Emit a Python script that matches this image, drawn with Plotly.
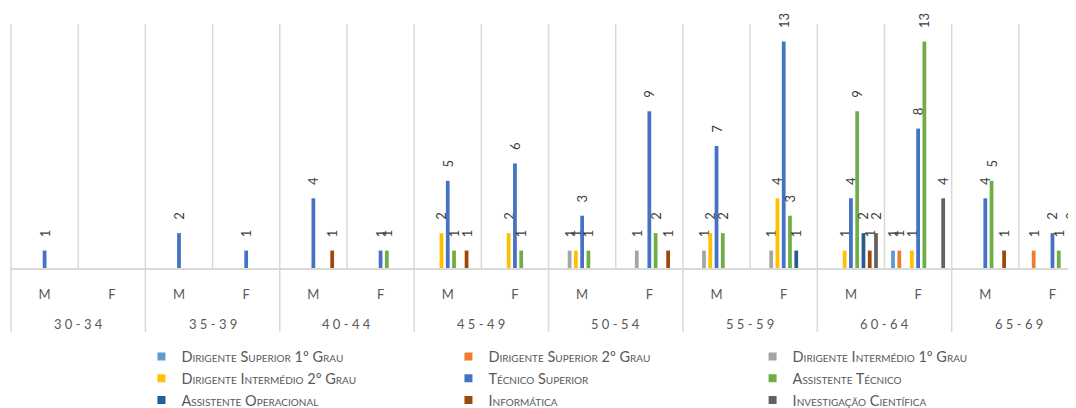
import plotly.graph_objects as go

ages = ["30-34", "35-39", "40-44", "45-49", "50-54", "55-59", "60-64", "65-69"]
sexes = ["M", "F"]

series_names = [
    "Dirigente Superior 1º Grau",
    "Dirigente Superior 2º Grau",
    "Dirigente Intermédio 1º Grau",
    "Dirigente Intermédio 2º Grau",
    "Técnico Superior",
    "Assistente Técnico",
    "Assistente Operacional",
    "Informática",
    "Investigação Científica",
]
colors = ["#5B9BD5", "#ED7D31", "#A5A5A5", "#FFC000", "#4472C4",
          "#70AD47", "#255E91", "#9E480E", "#636363"]

# order: 30-34 M, 30-34 F, 35-39 M, 35-39 F, ... 65-69 M, 65-69 F
dir_sup_1 = [0, 0, 0, 0, 0, 0, 0, 0, 0, 0, 0, 0, 0, 1, 0, 0]
dir_sup_2 = [0, 0, 0, 0, 0, 0, 0, 0, 0, 0, 0, 0, 0, 1, 0, 1]
dir_int_1 = [0, 0, 0, 0, 0, 0, 0, 0, 1, 1, 1, 1, 0, 0, 0, 0]
dir_int_2 = [0, 0, 0, 0, 0, 0, 2, 2, 1, 0, 2, 4, 1, 1, 0, 0]
tec_sup   = [1, 0, 2, 1, 4, 1, 5, 6, 3, 9, 7, 13, 4, 8, 4, 2]
ass_tec   = [0, 0, 0, 0, 0, 1, 1, 1, 1, 2, 2, 3, 9, 13, 5, 1]
ass_op    = [0, 0, 0, 0, 0, 0, 0, 0, 0, 0, 0, 1, 2, 0, 0, 0]
informat  = [0, 0, 0, 0, 1, 0, 1, 0, 0, 1, 0, 0, 1, 0, 1, 2]
inv_cien  = [0, 0, 0, 0, 0, 0, 0, 0, 0, 0, 0, 0, 2, 4, 0, 0]

all_series = [dir_sup_1, dir_sup_2, dir_int_1, dir_int_2, tec_sup,
              ass_tec, ass_op, informat, inv_cien]

cat_sex = [s for a in ages for s in sexes]
cat_age = [a for a in ages for s in sexes]
xs = list(range(len(cat_sex)))

FONT = "Lato"
fig = go.Figure()

for name, vals, col in zip(series_names, all_series, colors):
    yv = [v if v else None for v in vals]
    tv = [("\u00a0" * 4 + str(v)) if v else "" for v in vals]
    fig.add_trace(go.Bar(
        x=xs, y=yv, name=name, marker_color=col, marker_line_width=0,
        text=tv, textposition="outside", textangle=-90,
        textfont=dict(family=FONT, size=13, color="#404040"),
        cliponaxis=False, constraintext="none", showlegend=False,
        hoverinfo="skip",
    ))

# legend entries (3 columns)
legend_cols = ["legend", "legend2", "legend3"]
for i, (name, col) in enumerate(zip(series_names, colors)):
    fig.add_trace(go.Scatter(
        x=[None], y=[None], mode="markers", name=name,
        marker=dict(symbol="square", size=8, color=col),
        legend=legend_cols[i % 3], legendgroup=name, showlegend=True,
    ))

n = len(xs)
shapes = []
for i in range(n + 1):
    group_edge = (i % 2 == 0)
    shapes.append(dict(
        type="line", xref="x", yref="paper",
        x0=i - 0.5, x1=i - 0.5,
        y0=-0.262 if group_edge else 0, y1=1,
        line=dict(color="#D9D9D9", width=1.5), layer="below",
    ))

annotations = []
for g, a in enumerate(ages):
    annotations.append(dict(
        x=2 * g + 0.5, y=-0.23, xref="x", yref="paper",
        text=" ".join(list(a)), showarrow=False, yanchor="middle",
        font=dict(family=FONT, size=13, color="#595959"),
    ))

legend_style = dict(
    orientation="v", yanchor="top", y=-0.297, xanchor="left",
    font=dict(family=FONT, size=14.5, color="#595959", variant="small-caps"),
    bgcolor="rgba(0,0,0,0)", traceorder="grouped", tracegroupgap=0,
    itemclick=False, itemdoubleclick=False,
)

fig.update_layout(
    width=1068, height=400,
    margin=dict(l=2, r=0, t=16, b=140, autoexpand=False),
    paper_bgcolor="white", plot_bgcolor="white",
    barmode="group", bargap=0.16, bargroupgap=0.4,
    xaxis=dict(
        range=[-0.515, 15.35], tickmode="array", tickvals=xs, ticktext=cat_sex,
        showgrid=False, zeroline=False, showline=True, linecolor="#D9D9D9",
        linewidth=1.5, ticks="", ticklabelstandoff=14,
        tickfont=dict(family=FONT, size=13, color="#595959"),
    ),
    yaxis=dict(range=[0, 14], visible=False),
    shapes=shapes, annotations=annotations,
    legend=dict(legend_style, x=0.1233),
    legend2=dict(legend_style, x=0.4113),
    legend3=dict(legend_style, x=0.6966),
    showlegend=True,
)

fig.write_html("out.html")
